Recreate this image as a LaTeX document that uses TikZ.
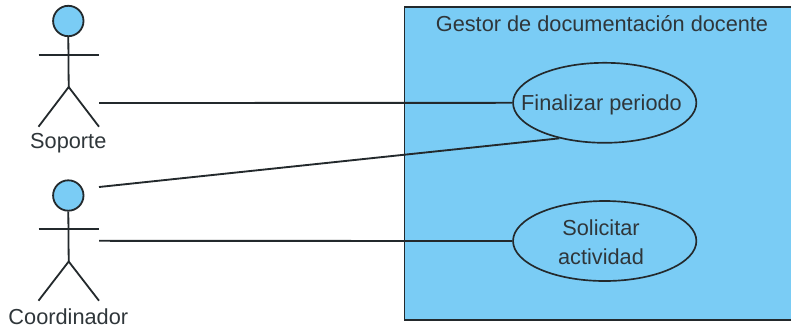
\documentclass[tikz,border=0pt]{standalone}
\usepackage{fontspec}
\setmainfont{Liberation Sans}
\definecolor{fillblue}{HTML}{7ACCF5}
\definecolor{inkline}{HTML}{23292C}
\definecolor{inktext}{HTML}{2F363A}
\usetikzlibrary{shapes.geometric}
\tikzset{
  lbl/.style={inner sep=0pt,font=\fontsize{16.3}{22}\selectfont,text=inktext},
  usecase/.style={ellipse,draw=inkline,fill=fillblue,line width=1.25pt,minimum width=137.5pt,minimum height=60pt,inner sep=0pt,align=center},
  limb/.style={draw=inkline,line width=1.35pt},
  conn/.style={draw=inkline,line width=1.4pt},
  headshape/.style={circle,draw=inkline,fill=fillblue,line width=1.35pt,minimum size=22.8pt,inner sep=0pt}
}
\begin{document}
\begin{tikzpicture}[x=0.75pt,y=-0.75pt]
\useasboundingbox (0,0) rectangle (791,330);
\fill[white] (0,0) rectangle (791,330);
\node[draw=inkline,fill=fillblue,line width=1.4pt,minimum width=294.75pt,minimum height=234.75pt,inner sep=0pt] (sys) at (601,163.7) {};
\node[lbl] (title) at (602,24) {Gestor de documentación docente};
\node[usecase] (uc1) at (604.7,102.8) {};
\node[lbl] (uc1t) at (601.5,104.5) {Finalizar periodo};
\node[usecase] (uc2) at (604.7,241) {};
\node[lbl,align=center] (uc2t) at (601,242.5) {Solicitar\\[0pt]actividad};
% actor Soporte
\node[headshape] (h1) at (68.3,21) {};
\coordinate (hip1) at (68.7,87);
\coordinate (al1) at (38.5,54.7);
\coordinate (ar1) at (99,54.7);
\coordinate (ll1) at (38.5,126.7);
\coordinate (lr1) at (99,126.7);
\draw[limb] (h1.south) -- (hip1);
\draw[limb] (al1) -- (ar1);
\draw[limb] (ll1) -- (hip1) -- (lr1);
\node[lbl] (a1) at (68.3,143) {Soporte};
% actor Coordinador
\node[headshape] (h2) at (68.3,195.5) {};
\coordinate (hip2) at (68.7,261.5);
\coordinate (al2) at (38.5,229);
\coordinate (ar2) at (99,229);
\coordinate (ll2) at (38.5,300.7);
\coordinate (lr2) at (99,300.7);
\draw[limb] (h2.south) -- (hip2);
\draw[limb] (al2) -- (ar2);
\draw[limb] (ll2) -- (hip2) -- (lr2);
\node[lbl] (a2) at (68.3,316.7) {Coordinador};
% connectors
\coordinate (c1) at (99,103);
\coordinate (c2) at (99,187);
\coordinate (c3) at (99,240.8);
\draw[conn] (c1) -- (uc1.west);
\draw[conn] (c2) -- (uc1.218);
\draw[conn] (c3) -- (uc2.west);
\end{tikzpicture}
\end{document}
